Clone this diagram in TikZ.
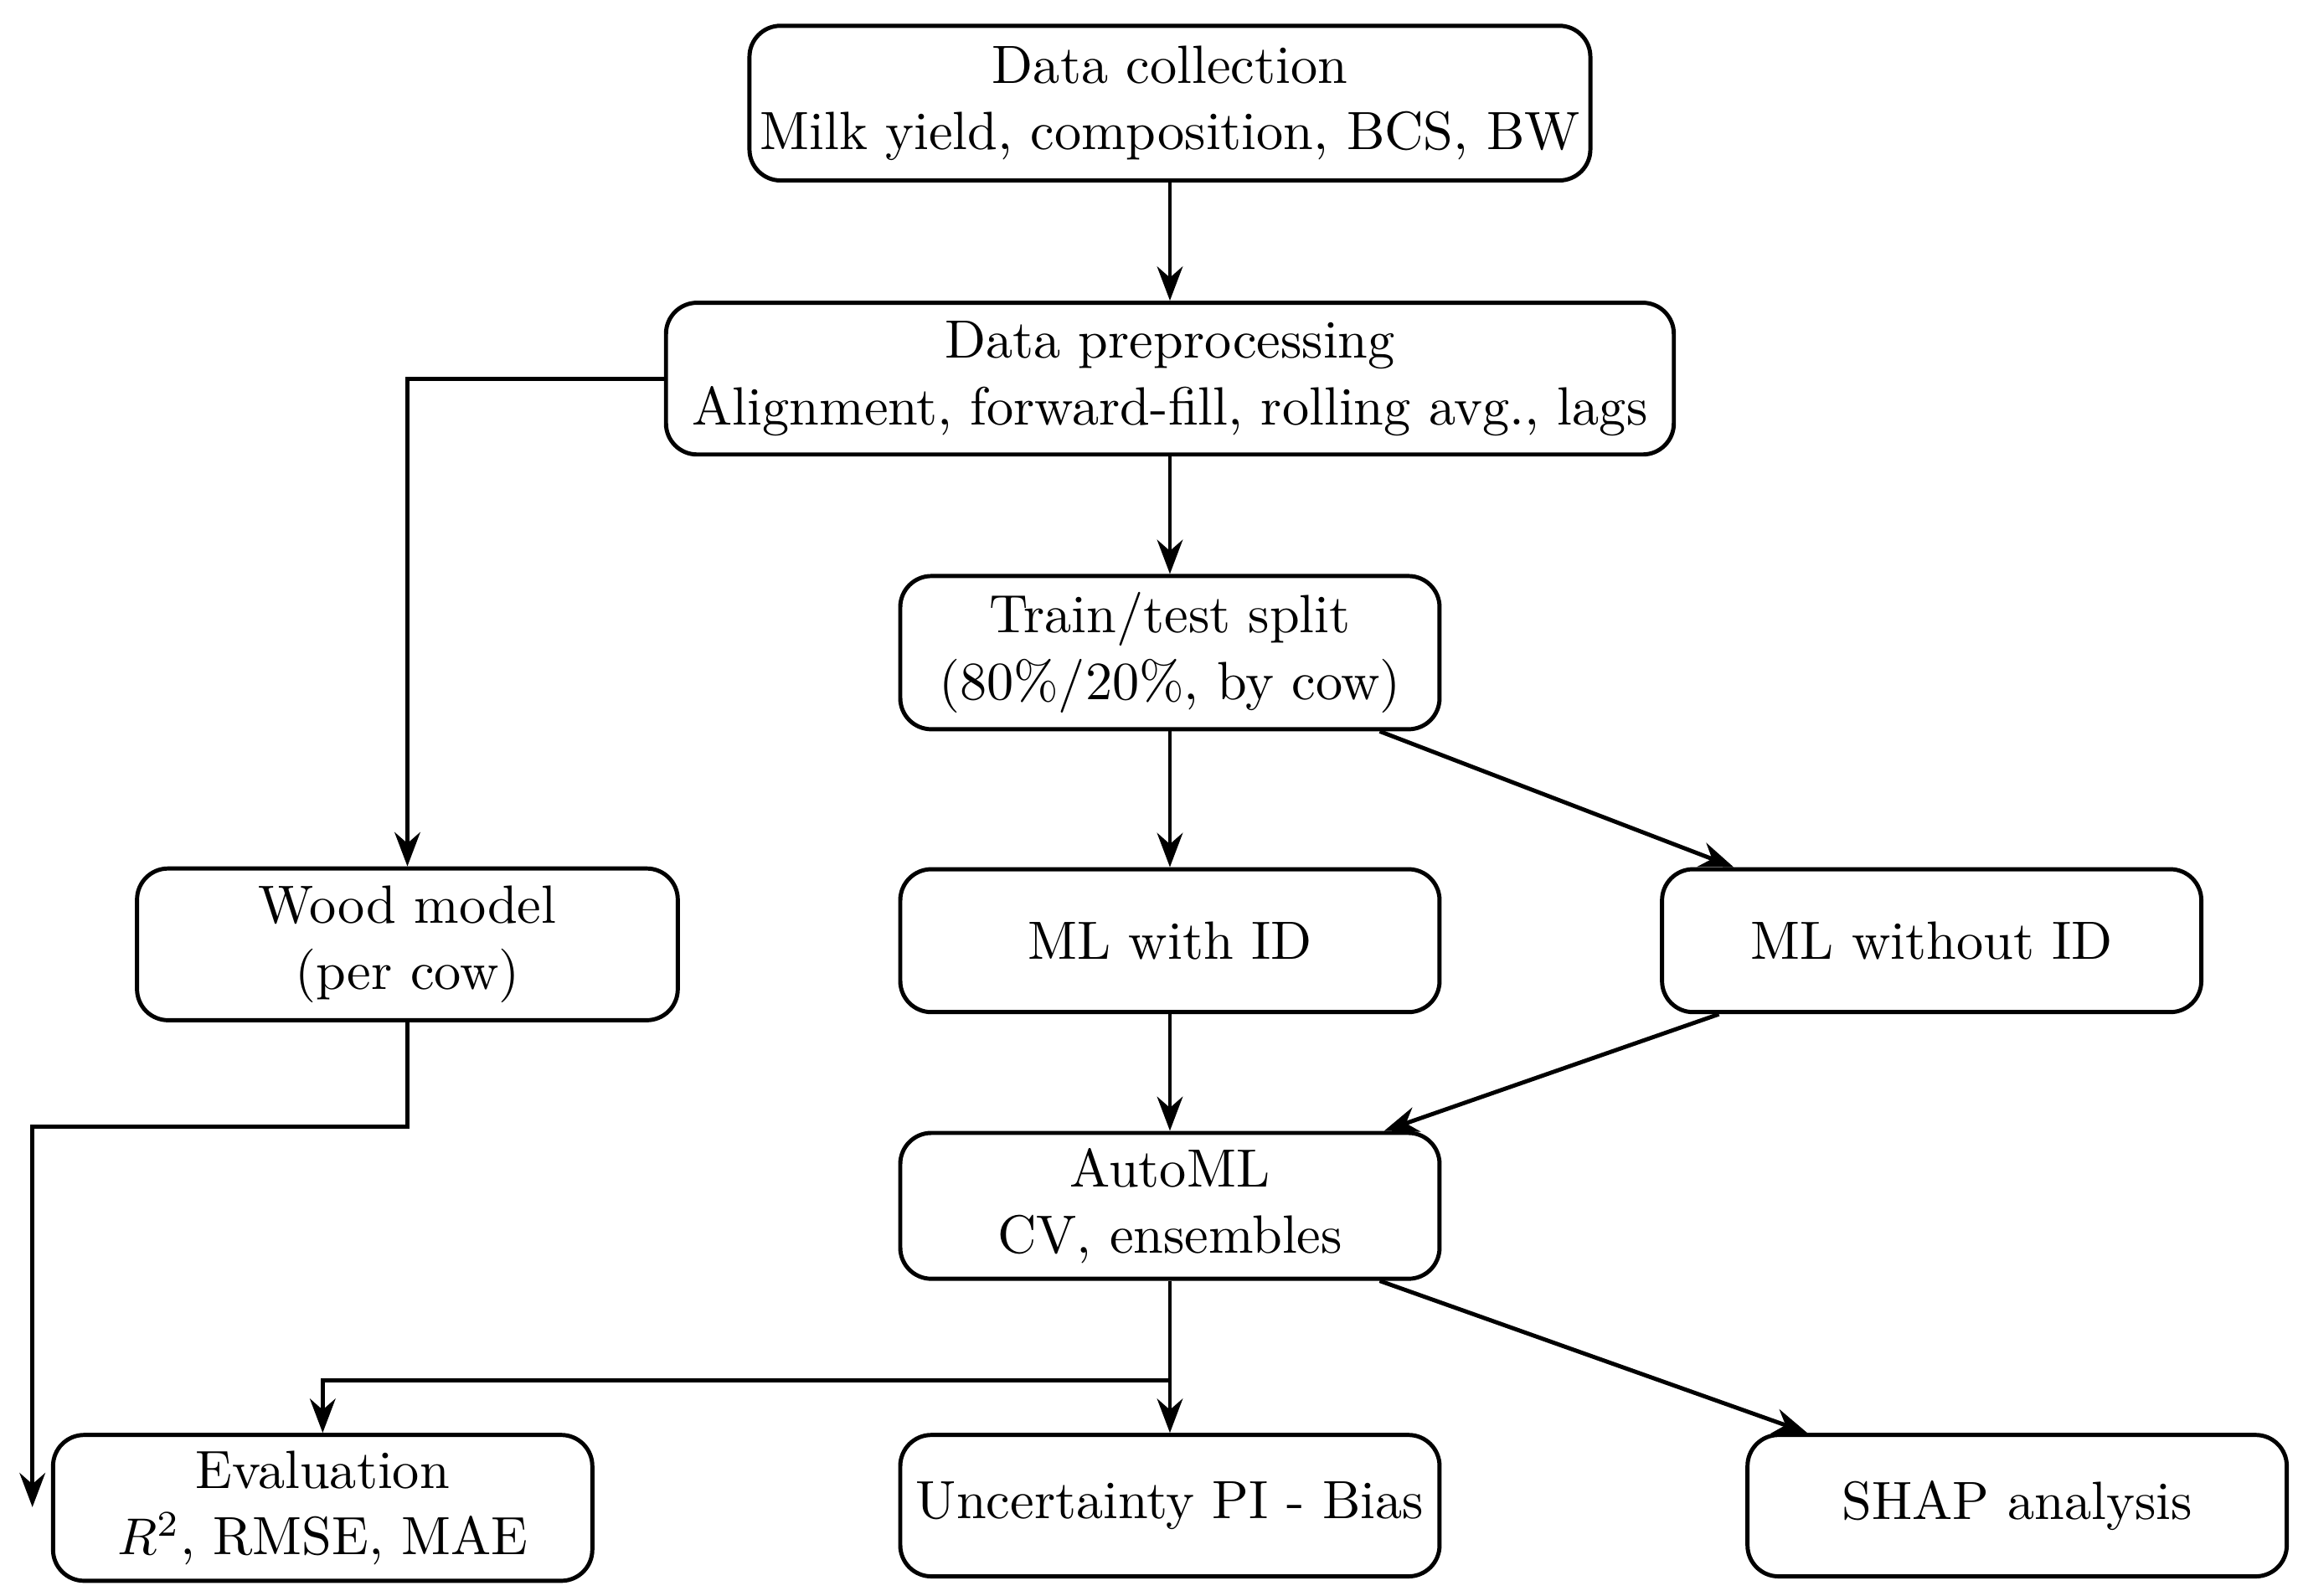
\documentclass[tikz,border=0pt]{standalone}
\usetikzlibrary{positioning,arrows.meta}
\tikzset{
  stagebox/.style={draw, rounded corners=6pt, thick, align=center, font=\fontsize{10.4}{12.8}\selectfont, inner sep=2pt},
  flow/.style={-Stealth, thick}
}
\begin{document}
\begin{tikzpicture}
  \useasboundingbox (0,0) rectangle (15.63,-10.83);
  \node[stagebox, minimum width=5.66cm, minimum height=1.05cm] (collect) at (7.94,-0.70) {Data collection\\Milk yield, composition, BCS, BW};
  \node[stagebox, minimum width=6.84cm, minimum height=1.03cm] (prep) at (7.94,-2.57) {Data preprocessing\\Alignment, forward-fill, rolling avg., lags};
  \node[stagebox, minimum width=3.66cm, minimum height=1.04cm] (split) at (7.94,-4.43) {Train/test split\\(80\%/20\%, by cow)};
  \node[stagebox, minimum width=3.67cm, minimum height=1.03cm] (wood) at (2.765,-6.41) {Wood model\\(per cow)};
  \node[stagebox, minimum width=3.66cm, minimum height=0.97cm] (mlid) at (7.94,-6.385) {ML with ID};
  \node[stagebox, minimum width=3.66cm, minimum height=0.97cm] (mlno) at (13.11,-6.385) {ML without ID};
  \node[stagebox, minimum width=3.66cm, minimum height=0.99cm] (auto) at (7.94,-8.185) {AutoML\\CV, ensembles};
  \node[stagebox, minimum width=3.66cm, minimum height=0.99cm] (eval) at (2.19,-10.235) {Evaluation\\$R^2$, RMSE, MAE};
  \node[stagebox, minimum width=3.66cm, minimum height=0.96cm] (unc) at (7.94,-10.22) {Uncertainty PI - Bias};
  \node[stagebox, minimum width=3.66cm, minimum height=0.96cm] (shap) at (13.69,-10.22) {SHAP analysis};
  \coordinate (evalin) at (0.22,-10.23);
  \draw[flow] (collect) -- (prep);
  \draw[flow] (prep) -- (split);
  \draw[flow] (prep.west) -| (wood.north);
  \draw[flow] (split) -- (mlid);
  \draw[flow] (split.south east) ++(-0.42,0) -- ([xshift=0.5cm]mlno.north west);
  \draw[flow] (mlid) -- (auto);
  \draw[flow] ([xshift=0.4cm]mlno.south west) -- ([xshift=-0.39cm]auto.north east);
  \draw[flow] (wood.south) -- ++(0,-0.71) -| (evalin);
  \draw[flow] (auto) -- (unc);
  \draw[flow] (7.94,-9.37) -| (eval.north);
  \draw[flow] ([xshift=-0.42cm]auto.south east) -- ([xshift=0.42cm]shap.north west);
\end{tikzpicture}
\end{document}
